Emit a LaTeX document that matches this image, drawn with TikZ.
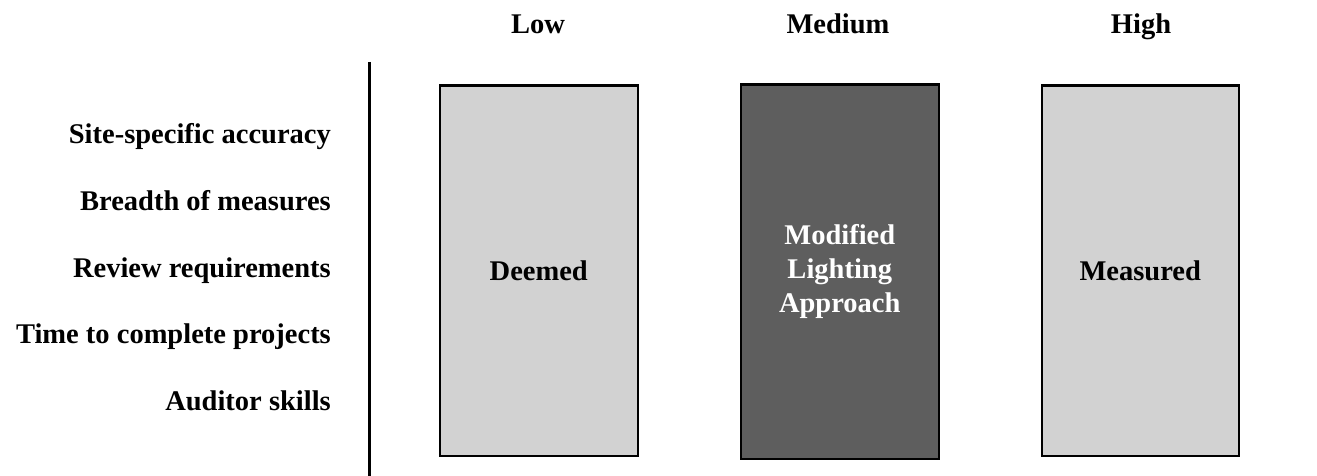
\documentclass[tikz,border=0pt]{standalone}
\usepackage{fontspec}
\setmainfont{Liberation Serif}
\begin{document}
\begin{tikzpicture}[x=1pt,y=-1pt,
  lab/.style={font=\fontsize{28.5}{34}\selectfont\bfseries, inner sep=0pt},
  rowlab/.style={lab, anchor=base east},
  collab/.style={lab, anchor=base},
  catbox/.style={draw=black, line width=2.5pt, minimum width=198pt, minimum height=370pt, inner sep=0pt, anchor=north west, align=center, font=\fontsize{28.5}{34}\selectfont\bfseries},
  lightbox/.style={catbox, fill=gray!35!white},
  darkbox/.style={catbox, fill=black!63, text=white}]
\useasboundingbox (0,0) rectangle (1317,476);
% headers
\node[collab] (low) at (538,34) {Low};
\node[collab] (med) at (838,34) {Medium};
\node[collab] (high) at (1141,34) {High};
% axis line
\coordinate (axtop) at (369,62);
\coordinate (axbot) at (369,476);
\draw[line width=3pt] (axtop) -- (axbot);
% row labels
\node[rowlab] (r1) at (331,143) {Site-specific accuracy};
\node[rowlab] (r2) at (331,210) {Breadth of measures};
\node[rowlab] (r3) at (331,277) {Review requirements};
\node[rowlab] (r4) at (331,343) {Time to complete projects};
\node[rowlab] (r5) at (331,410) {Auditor skills};
% boxes
\node[lightbox] (deemed) at (438.5,84.5) {Deemed};
\node[darkbox, minimum height=374pt] (mla) at (739.5,83.5) {Modified\\Lighting\\Approach};
\node[lightbox, minimum width=197pt] (measured) at (1040.5,84.5) {Measured};
\end{tikzpicture}
\end{document}
